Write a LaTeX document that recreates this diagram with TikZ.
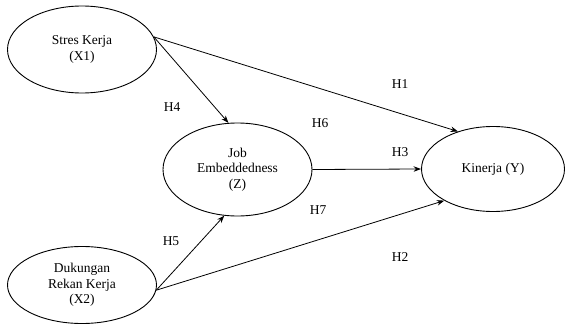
\documentclass[tikz,border=0pt]{standalone}
\usepackage{fontspec}
\setmainfont{Liberation Serif}
\usepackage{tikz}
\usetikzlibrary{shapes.geometric, arrows.meta, positioning}

\begin{document}
\begin{tikzpicture}[
  x=1pt, y=-1pt,
  latent/.style={ellipse, draw, line width=0.9pt, inner sep=0pt, align=center, font=\fontsize{13.5}{15.5}\selectfont},
  hyp/.style={font=\fontsize{13.5}{15}\selectfont},
  arrow/.style={-{Stealth[length=7.5pt, width=5.5pt]}, line width=0.8pt},
]
\useasboundingbox (0,0) rectangle (567,329);

\node[latent, minimum width=149pt, minimum height=87pt] (x1) at (82,49.5) {Stres Kerja\\(X1)};
\node[latent, minimum width=149pt, minimum height=77pt] (x2) at (82,285) {Dukungan\\Rekan Kerja\\(X2)};
\node[latent, minimum width=149pt, minimum height=93pt] (z) at (237.5,169.5) {Job\\Embeddedness\\(Z)};
\node[latent, minimum width=143pt, minimum height=85pt] (y) at (493,169) {Kinerja (Y)};

\node[hyp] (h1) at (400,84) {H1};
\node[hyp] (h2) at (400,257) {H2};
\node[hyp] (h3) at (400,152) {H3};
\node[hyp] (h4) at (172,107) {H4};
\node[hyp] (h5) at (171,241) {H5};
\node[hyp] (h6) at (320,123) {H6};
\node[hyp] (h7) at (318,210) {H7};

\draw[arrow] (x1.10) -- (y.133);
\draw[arrow] (x1.10) -- (z.101);
\draw[arrow] (z.east) -- (y.west);
\draw[arrow] (x2.-4) -- (z.-106);
\draw[arrow] (x2.-4) -- (y.213);

\end{tikzpicture}
\end{document}
